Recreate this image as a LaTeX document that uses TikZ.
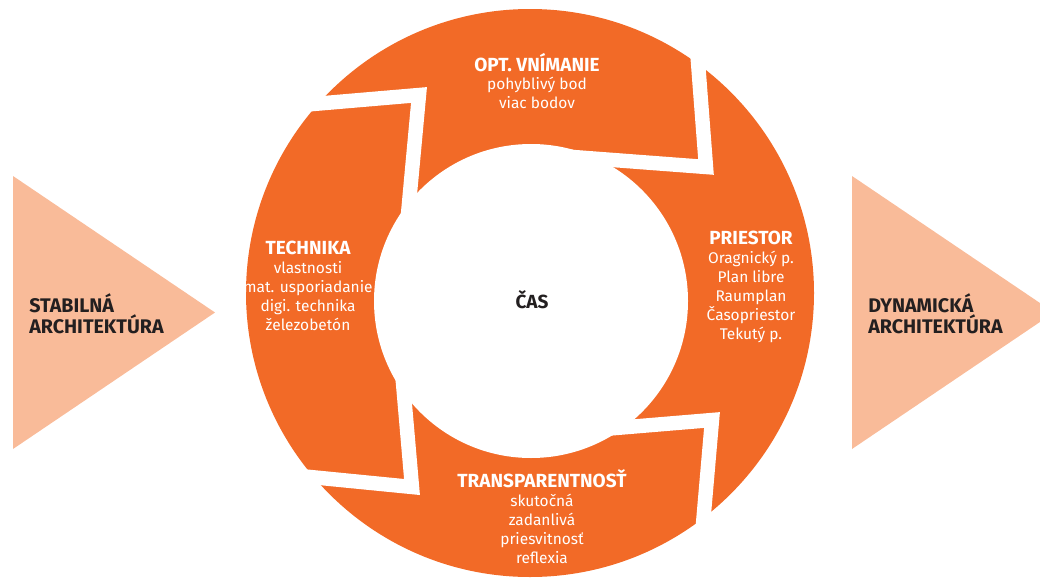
\documentclass[tikz,border=0pt]{standalone}
\usepackage{fontspec}
\setmainfont{Fira Sans}

\definecolor{ringorange}{RGB}{242,106,39}
\definecolor{wedgepeach}{RGB}{249,187,153}
\definecolor{inkdark}{RGB}{35,31,32}

\newcommand{\stagehead}[1]{{\bfseries\fontsize{13.5}{13.5}\selectfont #1}}

\begin{document}
\begin{tikzpicture}[x=0.025cm, y=-0.025cm,
        stage/.style={text=white, align=center, inner sep=0pt, font=\fontsize{11}{13.5}\selectfont},
        side/.style={text=inkdark, align=left, anchor=west, inner sep=0pt, font=\fontsize{14}{12.8}\selectfont\bfseries},
        gap/.style={white, line width=0.36cm, line join=miter}]
    \clip (0,0) rectangle (1040,579);

    \fill[wedgepeach] (13,176) -- (215,312.5) -- (13,449) -- cycle;
    \fill[wedgepeach] (852,176) -- (1054,312.5) -- (852,449) -- cycle;

    \fill[ringorange] (530,293) circle[radius=284];
    \fill[white] (531,301) circle[radius=157];

    \foreach \a/\b/\c in {{290,106}/{419,95}/{407,225},
                          {694,10}/{706,167}/{560,156},
                          {580,431}/{712,420}/{699,570},
                          {270,473}/{412,487}/{401,360}} {
        \draw[gap] (\a) -- (\b) -- (\c);
    }

    \node[stage] (vnimanie) at (537,81) {\stagehead{OPT. VNÍMANIE}\\pohyblivý bod\\viac bodov};
    \node[stage] (priestor) at (751,287) {\stagehead{PRIESTOR}\\Oragnický p.\\Plan libre\\Raumplan\\Časopriestor\\Tekutý p.};
    \node[stage] (technika) at (308,286) {\stagehead{TECHNIKA}\\vlastnosti\\mat. usporiadanie\\digi. technika\\železobetón};
    \node[stage] (transparentnost) at (542,517) {\stagehead{TRANSPARENTNOSŤ}\\skutočná\\zadanlivá\\priesvitnosť\\reflexia};
    \node[text=inkdark, font=\fontsize{13.5}{14}\selectfont\bfseries] (cas) at (532,300) {ČAS};

    \node[side] (stabilna) at (29,314) {STABILNÁ\\ARCHITEKTÚRA};
    \node[side] (dynamicka) at (868,314) {DYNAMICKÁ\\ARCHITEKTÚRA};
\end{tikzpicture}
\end{document}
